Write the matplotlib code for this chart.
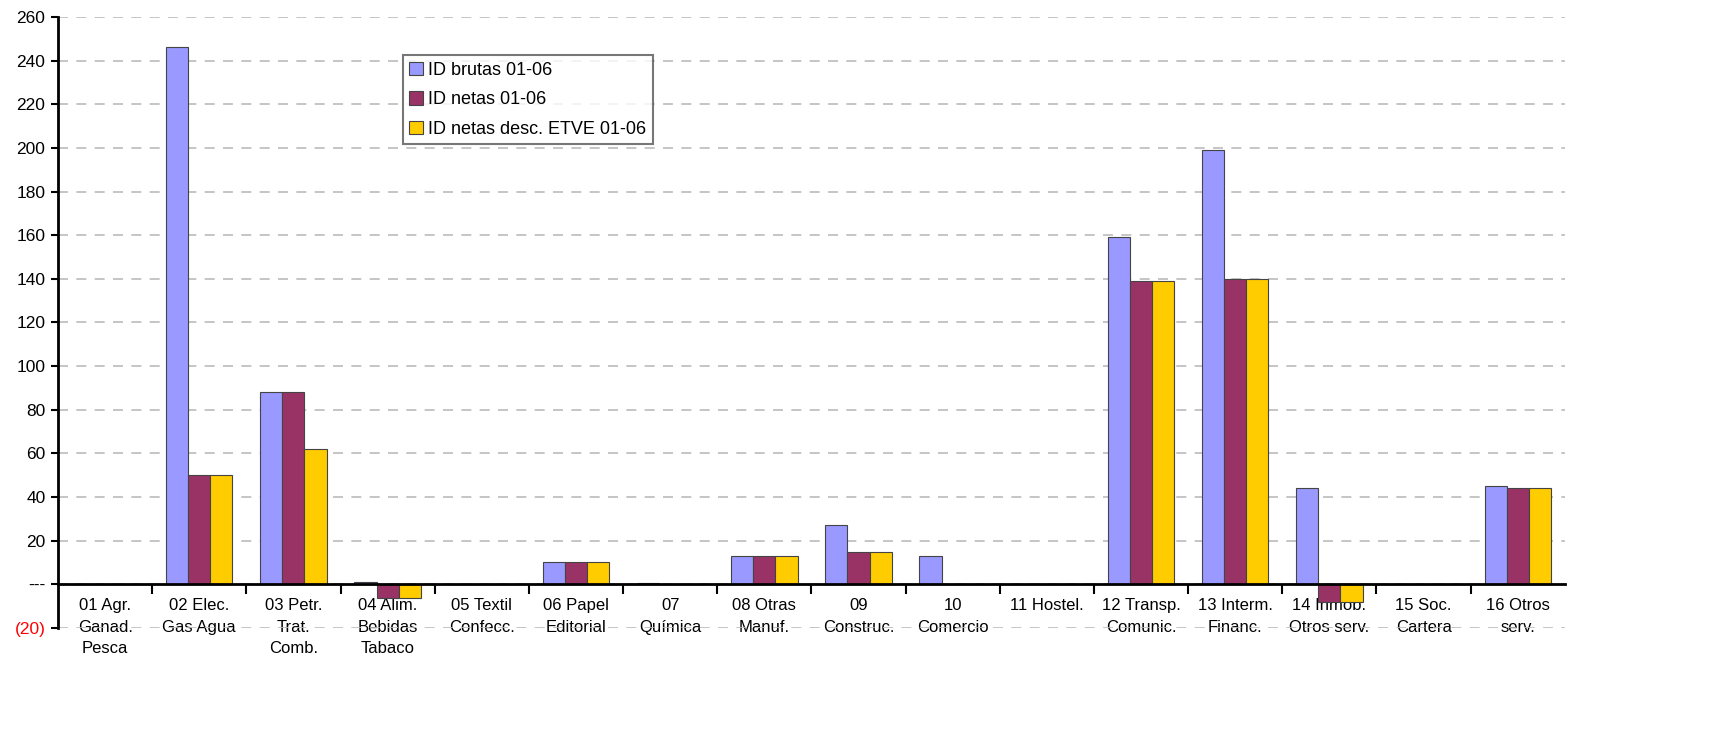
import matplotlib
matplotlib.use("Agg")
import matplotlib.pyplot as plt
import numpy as np

# Datos
sectores = ["01 Agr.\nGanad.\nPesca", "02 Elec.\nGas Agua", "03 Petr.\nTrat.\nComb.",
            "04 Alim.\nBebidas\nTabaco", "05 Textil\nConfecc.", "06 Papel\nEditorial",
            "07\nQuímica", "08 Otras\nManuf.", "09\nConstruc.", "10\nComercio",
            "11 Hostel.", "12 Transp.\nComunic.", "13 Interm.\nFinanc.",
            "14 Inmob.\nOtros serv.", "15 Soc.\nCartera", "16 Otros\nserv."]
id_brutas = [0, 246, 88, 1, 0, 10, 0.5, 13, 27, 13, 0, 159, 199, 44, 0, 45]
id_netas = [0, 50, 88, -6.5, 0, 10, 0, 13, 15, 0.3, 0, 139, 140, -8, 0, 44]
id_netas_etve = [0, 50, 62, -6.5, 0, 10, 0, 13, 15, 0.3, 0, 139, 140, -8, 0, 44]
series = ["ID brutas 01-06", "ID netas 01-06", "ID netas desc. ETVE 01-06"]
colores = ["#9999FF", "#993366", "#FFCC00"]
yticks = list(range(-20, 261, 20))

plt.rcParams['font.family'] = ['Liberation Sans', 'DejaVu Sans']

fig = plt.figure(figsize=(17.36, 7.37), dpi=100)
ax = fig.add_axes([0.0334, 0.148, 0.868, 0.829])

x = np.arange(len(sectores))
w = 0.235
for i, (vals, nombre, c) in enumerate(zip([id_brutas, id_netas, id_netas_etve], series, colores)):
    ax.bar(x + (i - 1) * w, vals, w, color=c, edgecolor="#444444", linewidth=0.8,
           label=nombre, zorder=3)

ax.set_xlim(-0.5, len(sectores) - 0.5)
ax.set_ylim(-20, 260)
ax.set_yticks(yticks)
etiq = []
for t in yticks:
    if t == 0:
        etiq.append("---")
    elif t < 0:
        etiq.append("(%d)" % abs(t))
    else:
        etiq.append(str(t))
ax.set_yticklabels(etiq, fontsize=12.5)
ax.get_yticklabels()[0].set_color("red")
ax.grid(axis="y", linestyle=(0, (6, 5)), color="#BBBBBB", linewidth=1.2, zorder=0)
ax.tick_params(axis="y", direction="out", length=5, width=1.5, pad=4)

# eje x en y=0
ax.spines["bottom"].set_position(("data", 0))
ax.spines["bottom"].set_linewidth(2)
ax.spines["bottom"].set_zorder(4)
ax.spines["left"].set_linewidth(2)
ax.spines["top"].set_visible(False)
ax.spines["right"].set_visible(False)
ax.set_xticks(np.arange(0.5, len(sectores) - 0.5, 1))
ax.set_xticklabels([])
ax.tick_params(axis="x", which="major", direction="out", length=7, width=1.5)
ax.set_xticks(x, minor=True)
ax.set_xticklabels(sectores, minor=True, fontsize=12, linespacing=1.55)
ax.tick_params(axis="x", which="minor", length=0, pad=10)

leg = ax.legend(loc="upper left", bbox_to_anchor=(0.229, 0.937), fontsize=13,
                frameon=True, fancybox=False, edgecolor="#555555",
                handlelength=0.75, handleheight=0.75, handletextpad=0.3,
                borderpad=0.35, labelspacing=0.7, borderaxespad=0)
leg.get_frame().set_linewidth(1.5)

fig.savefig("out.png", dpi=100)
